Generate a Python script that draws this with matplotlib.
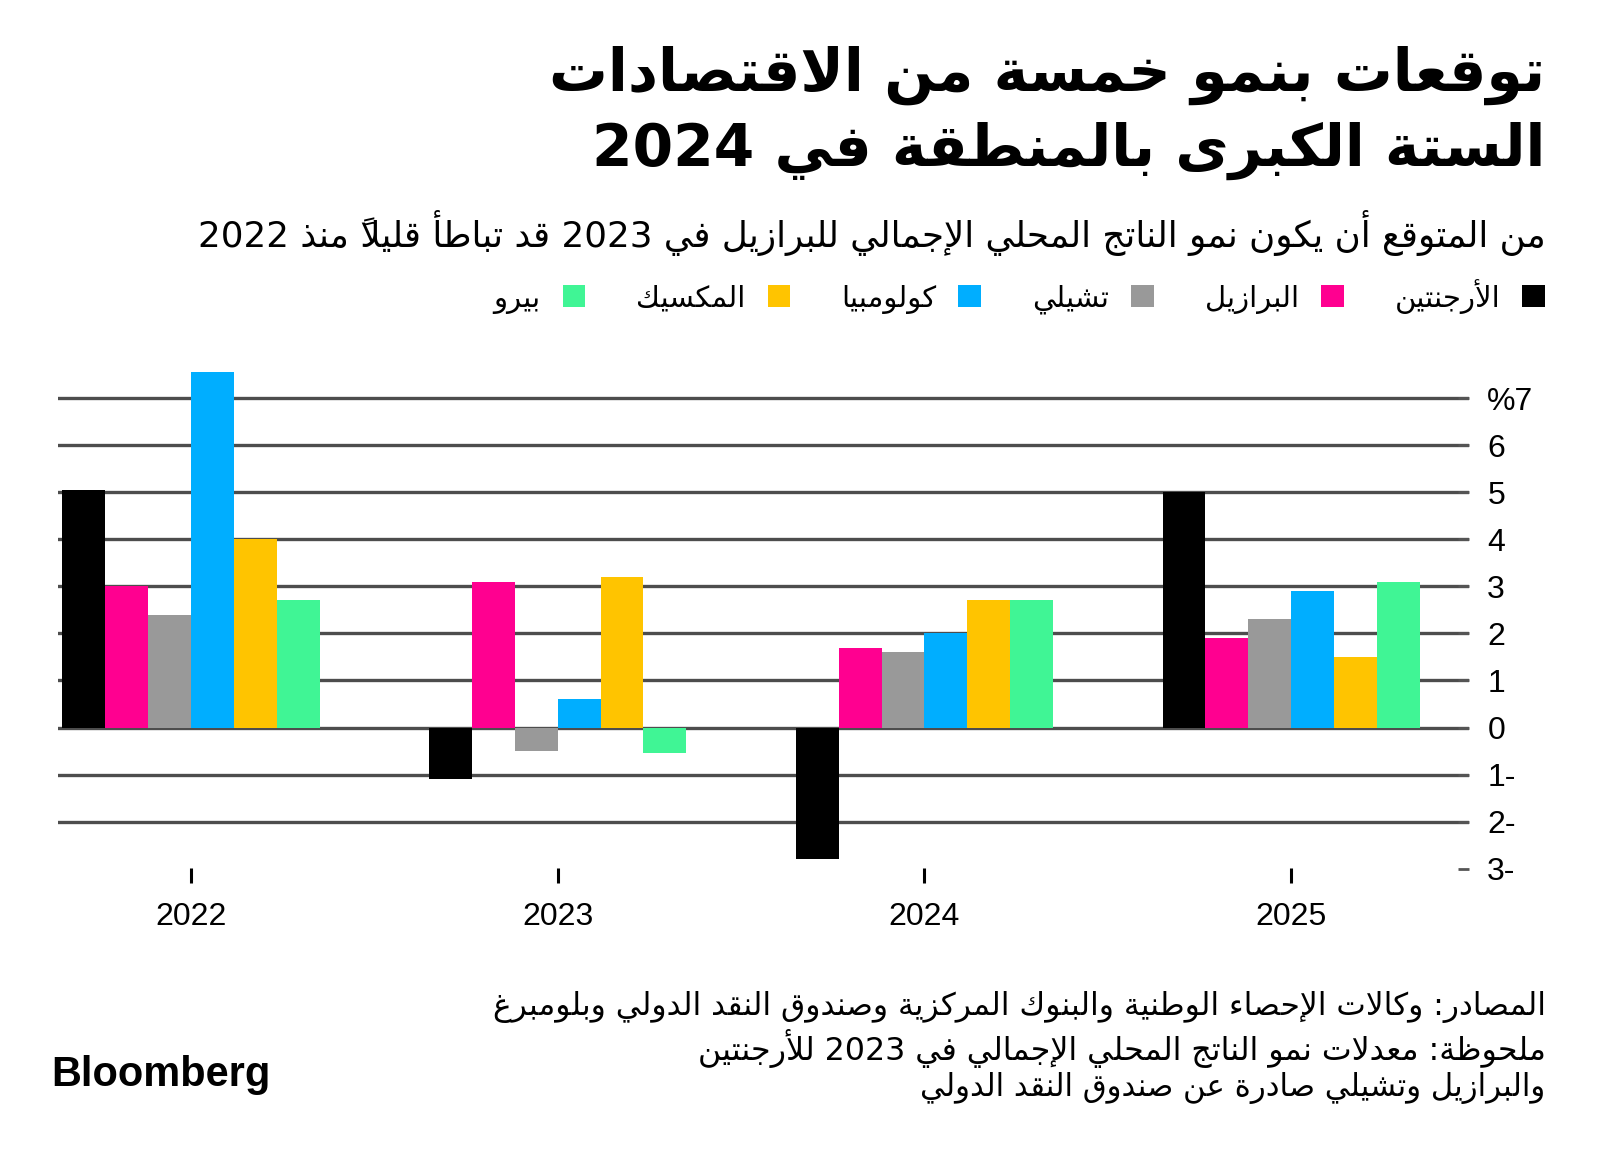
import numpy as np
import matplotlib
matplotlib.use('Agg')
import matplotlib.pyplot as plt
from matplotlib.patches import Patch

# ---- data ----
years = ['2022', '2023', '2024', '2025']
countries = ['الأرجنتين', 'البرازيل', 'تشيلي', 'كولومبيا', 'المكسيك', 'بيرو']
colors = ['#000000', '#ff0090', '#999999', '#00aeff', '#ffc400', '#40f595']

argentina = [5.05, -1.1, -2.8, 5.0]
brazil = [3.0, 3.1, 1.7, 1.9]
chile = [2.4, -0.5, 1.6, 2.3]
colombia = [7.55, 0.6, 2.0, 2.9]
mexico = [4.0, 3.2, 2.7, 1.5]
peru = [2.7, -0.55, 2.7, 3.1]

ytick_values = [-3, -2, -1, 0, 1, 2, 3, 4, 5, 6, 7]
ytick_labels = ['3-', '2-', '1-', '0', '1', '2', '3', '4', '5', '6', '%7']

title_lines = ['توقعات بنمو خمسة من الاقتصادات', 'الستة الكبرى بالمنطقة في 2024']
subtitle = 'من المتوقع أن يكون نمو الناتج المحلي الإجمالي للبرازيل في 2023 قد تباطأ قليلاً منذ 2022'
footer_lines = ['المصادر: وكالات الإحصاء الوطنية والبنوك المركزية وصندوق النقد الدولي وبلومبرغ',
                'ملحوظة: معدلات نمو الناتج المحلي الإجمالي في 2023 للأرجنتين',
                'والبرازيل وتشيلي صادرة عن صندوق النقد الدولي']


# ---- arabic shaping (matplotlib has no shaping / bidi) ----
FORMS = {}
for ch, start, n in [
        ('\u0621', 0xFE80, 1), ('\u0622', 0xFE81, 2), ('\u0623', 0xFE83, 2), ('\u0624', 0xFE85, 2),
        ('\u0625', 0xFE87, 2), ('\u0626', 0xFE89, 4), ('\u0627', 0xFE8D, 2), ('\u0628', 0xFE8F, 4),
        ('\u0629', 0xFE93, 2), ('\u062A', 0xFE95, 4), ('\u062B', 0xFE99, 4), ('\u062C', 0xFE9D, 4),
        ('\u062D', 0xFEA1, 4), ('\u062E', 0xFEA5, 4), ('\u062F', 0xFEA9, 2), ('\u0630', 0xFEAB, 2),
        ('\u0631', 0xFEAD, 2), ('\u0632', 0xFEAF, 2), ('\u0633', 0xFEB1, 4), ('\u0634', 0xFEB5, 4),
        ('\u0635', 0xFEB9, 4), ('\u0636', 0xFEBD, 4), ('\u0637', 0xFEC1, 4), ('\u0638', 0xFEC5, 4),
        ('\u0639', 0xFEC9, 4), ('\u063A', 0xFECD, 4), ('\u0641', 0xFED1, 4), ('\u0642', 0xFED5, 4),
        ('\u0643', 0xFED9, 4), ('\u0644', 0xFEDD, 4), ('\u0645', 0xFEE1, 4), ('\u0646', 0xFEE5, 4),
        ('\u0647', 0xFEE9, 4), ('\u0648', 0xFEED, 2), ('\u0649', 0xFEEF, 2), ('\u064A', 0xFEF1, 4)]:
    FORMS[ch] = [chr(start + k) for k in range(n)]
MARKS = set(chr(c) for c in range(0x064B, 0x0653)) | {'\u0670'}
LAM_ALEF = {'\u0622': 0xFEF5, '\u0623': 0xFEF7, '\u0625': 0xFEF9, '\u0627': 0xFEFB}


def ar(text):
    cl = []
    for ch in text:
        if ch in MARKS and cl:
            cl[-1][1] += ch
        else:
            cl.append([ch, ''])
    items = []
    i = 0
    while i < len(cl):
        ch, marks = cl[i]
        if ch not in FORMS:
            items.append((ch + marks, ch.isascii() and ch.isalnum()))
            i += 1
            continue
        prev = cl[i - 1][0] if i > 0 else ''
        nxt = cl[i + 1][0] if i + 1 < len(cl) else ''
        jp = prev in FORMS and len(FORMS[prev]) == 4
        if ch == '\u0644' and nxt in LAM_ALEF:
            # mark of the alef sits on the left end of the ligature
            items.append((cl[i + 1][1] + chr(LAM_ALEF[nxt] + (1 if jp else 0)) + marks, False))
            i += 2
            continue
        forms = FORMS[ch]
        jn = len(forms) == 4 and nxt in FORMS and len(FORMS[nxt]) >= 2
        if len(forms) == 4:
            g = forms[{(False, False): 0, (True, False): 1, (False, True): 2, (True, True): 3}[(jp, jn)]]
        elif len(forms) == 2:
            g = forms[1 if jp else 0]
        else:
            g = forms[0]
        items.append((g + marks, False))
        i += 1
    runs = []
    for g, ltr in items:
        if runs and runs[-1][0] == ltr:
            runs[-1][1].append(g)
        else:
            runs.append([ltr, [g]])
    out = ''
    for ltr, gs in reversed(runs):
        out += ''.join(gs) if ltr else ''.join(reversed(gs))
    return out


AR_FONT = ['DejaVu Sans']
NUM_FONT = ['Liberation Sans', 'DejaVu Sans']

fig = plt.figure(figsize=(16, 11.53), dpi=100)
ax = fig.add_axes([0.03625, 0.2343, 0.882, 0.449])

series = [argentina, brazil, chile, colombia, mexico, peru]
x = np.arange(len(years))
w = 0.117
for i, vals in enumerate(series):
    ax.bar(x + (i - 2.5) * w, vals, width=w, color=colors[i], zorder=3, linewidth=0)

ax.set_xlim(-0.362, 3.485)
ax.set_ylim(-3.3, 7.7)
ax.set_yticks(ytick_values)
ax.set_yticklabels(ytick_labels, fontfamily=NUM_FONT, fontsize=23)
ax.yaxis.tick_right()
ax.tick_params(axis='y', direction='in', length=8, width=2, color='#555555', pad=13)
ax.set_xticks(x)
ax.set_xticklabels(years, fontfamily=NUM_FONT, fontsize=23)
ax.tick_params(axis='x', direction='in', length=11, width=2.2, color='#000000', pad=14)
ax.grid(axis='y', color='#4d4d4d', linewidth=2.4, zorder=1)
ax.get_ygridlines()[0].set_visible(False)
for s in ax.spines.values():
    s.set_visible(False)

# legend, right-to-left
handles = [Patch(facecolor=c, edgecolor='none') for c in colors]
leg = ax.legend(handles[::-1], [ar(c) for c in countries[::-1]], ncol=6, markerfirst=False,
                loc='center right', bbox_to_anchor=(0.982, 0.743), bbox_transform=fig.transFigure,
                frameon=False, handlelength=0.78, handleheight=0.78, handletextpad=0.75,
                columnspacing=1.75, prop={'family': AR_FONT, 'size': 21})

renderer = fig.canvas.get_renderer()


def fit(t, width):
    wd = t.get_window_extent(renderer).width
    t.set_fontsize(t.get_fontsize() * width / wd)


RX = 0.966
t1 = fig.text(RX, 0.935, ar(title_lines[0]), ha='right', va='center', fontsize=44,
              fontweight='bold', family=AR_FONT)
fit(t1, 995)
t2 = fig.text(RX, 0.869, ar(title_lines[1]), ha='right', va='center', fontsize=44,
              fontweight='bold', family=AR_FONT)
fit(t2, 952)
st = fig.text(RX, 0.798, ar(subtitle), ha='right', va='center', fontsize=22, family=AR_FONT)
fit(st, 1352)

fy = [0.1266, 0.091, 0.0564]
fw = [1053, 849, 625]
for line, yy, ww in zip(footer_lines, fy, fw):
    ft = fig.text(RX, yy, ar(line), ha='right', va='center', fontsize=20, family=AR_FONT)
    fit(ft, ww)

bt = fig.text(0.032, 0.068, 'Bloomberg', ha='left', va='center', fontsize=26,
              fontweight='heavy', family=NUM_FONT)
fit(bt, 219)

fig.savefig('out.png', dpi=100, facecolor='white')
